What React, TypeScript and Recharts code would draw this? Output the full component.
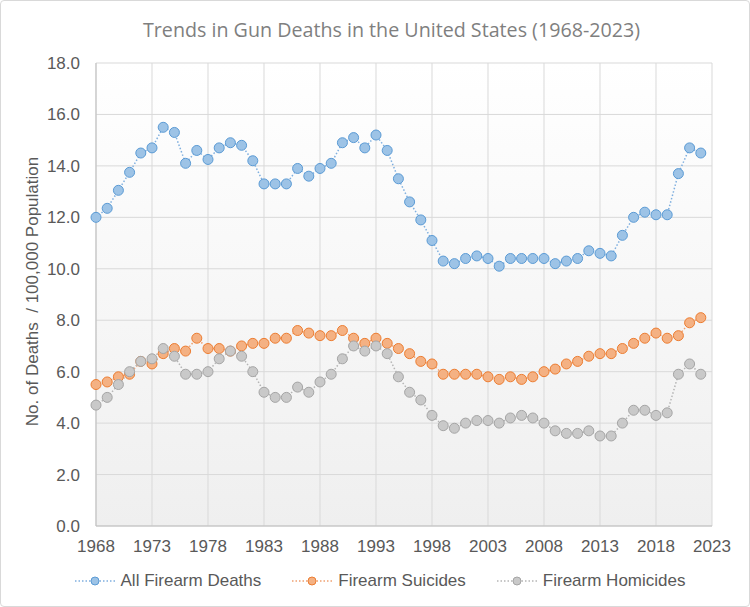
import React from 'react';
import { LineChart, Line, XAxis, YAxis, CartesianGrid } from 'recharts';

const years = [
  1968, 1969, 1970, 1971, 1972, 1973, 1974, 1975, 1976, 1977,
  1978, 1979, 1980, 1981, 1982, 1983, 1984, 1985, 1986, 1987,
  1988, 1989, 1990, 1991, 1992, 1993, 1994, 1995, 1996, 1997,
  1998, 1999, 2000, 2001, 2002, 2003, 2004, 2005, 2006, 2007,
  2008, 2009, 2010, 2011, 2012, 2013, 2014, 2015, 2016, 2017,
  2018, 2019, 2020, 2021, 2022,
];

const allFirearmDeaths = [
  12.0, 12.35, 13.05, 13.75, 14.5, 14.7, 15.5, 15.3, 14.1, 14.6,
  14.25, 14.7, 14.9, 14.8, 14.2, 13.3, 13.3, 13.3, 13.9, 13.6,
  13.9, 14.1, 14.9, 15.1, 14.7, 15.2, 14.6, 13.5, 12.6, 11.9,
  11.1, 10.3, 10.2, 10.4, 10.5, 10.4, 10.1, 10.4, 10.4, 10.4,
  10.4, 10.2, 10.3, 10.4, 10.7, 10.6, 10.5, 11.3, 12.0, 12.2,
  12.1, 12.1, 13.7, 14.7, 14.5,
];

const firearmSuicides = [
  5.5, 5.6, 5.8, 5.9, 6.4, 6.3, 6.7, 6.9, 6.8, 7.3,
  6.9, 6.9, 6.8, 7.0, 7.1, 7.1, 7.3, 7.3, 7.6, 7.5,
  7.4, 7.4, 7.6, 7.3, 7.1, 7.3, 7.1, 6.9, 6.7, 6.4,
  6.3, 5.9, 5.9, 5.9, 5.9, 5.8, 5.7, 5.8, 5.7, 5.8,
  6.0, 6.1, 6.3, 6.4, 6.6, 6.7, 6.7, 6.9, 7.1, 7.3,
  7.5, 7.3, 7.4, 7.9, 8.1,
];

const firearmHomicides = [
  4.7, 5.0, 5.5, 6.0, 6.4, 6.5, 6.9, 6.6, 5.9, 5.9,
  6.0, 6.5, 6.8, 6.6, 6.0, 5.2, 5.0, 5.0, 5.4, 5.2,
  5.6, 5.9, 6.5, 7.0, 6.8, 7.0, 6.7, 5.8, 5.2, 4.9,
  4.3, 3.9, 3.8, 4.0, 4.1, 4.1, 4.0, 4.2, 4.3, 4.2,
  4.0, 3.7, 3.6, 3.6, 3.7, 3.5, 3.5, 4.0, 4.5, 4.5,
  4.3, 4.4, 5.9, 6.3, 5.9,
];

const xTicks = [1968, 1973, 1978, 1983, 1988, 1993, 1998, 2003, 2008, 2013, 2018, 2023];
const yTicks = [0, 2, 4, 6, 8, 10, 12, 14, 16, 18];

const titleText = 'Trends in Gun Deaths in the United States (1968-2023)';
const yLabelText = 'No. of Deaths  / 100,000 Population';

const series = [
  { key: 'all', name: 'All Firearm Deaths', values: allFirearmDeaths, fill: '#9dc3e6', stroke: '#5b9bd5', line: '#7fafdf' },
  { key: 'suicides', name: 'Firearm Suicides', values: firearmSuicides, fill: '#f4b183', stroke: '#ed7d31', line: '#f0a070' },
  { key: 'homicides', name: 'Firearm Homicides', values: firearmHomicides, fill: '#c9c9c9', stroke: '#a5a5a5', line: '#b5b5b5' },
];

const data = years.map((year, i) => {
  const row: Record<string, number> = { year };
  series.forEach((s) => {
    row[s.key] = s.values[i];
  });
  return row;
});

const FONT = '"Liberation Sans", Arial, sans-serif';
const TEXT_COLOR = '#595959';

const YLabel = (props: any) => {
  const vb = props.viewBox || {};
  const cx = (vb.x || 0) + 32;
  const cy = (vb.y || 0) + (vb.height || 0) / 2 - 3;
  return (
    <text
      x={cx}
      y={cy}
      transform={`rotate(-90, ${cx}, ${cy})`}
      textAnchor="middle"
      dominantBaseline="central"
      fill={TEXT_COLOR}
      fontSize={17}
      fontFamily={FONT}
      style={{ whiteSpace: 'pre' }}
    >
      {yLabelText}
    </text>
  );
};

export default function App() {
  return (
    <div
      style={{
        position: 'absolute',
        left: 0,
        top: 0,
        width: 750,
        height: 607,
        background: '#ffffff',
        boxSizing: 'border-box',
        border: '1px solid #d9d9d9',
        borderRadius: 4,
        overflow: 'hidden',
      }}
    >
      <svg
        width={750}
        height={50}
        style={{ position: 'absolute', left: -1, top: -1 }}
      >
        <text
          x={143}
          y={37}
          textLength={497}
          lengthAdjust="spacingAndGlyphs"
          fill="#7f7f7f"
          fontSize={20}
          fontFamily='"Open Sans", "Noto Sans", sans-serif'
        >
          {titleText}
        </text>
      </svg>
      <div style={{ position: 'absolute', left: -1, top: -1 }}>
        <LineChart
          width={750}
          height={607}
          data={data}
          margin={{ top: 63, right: 38, bottom: 51, left: 0 }}
        >
          <defs>
            <linearGradient id="plotBg" x1="0" y1="0" x2="0" y2="1">
              <stop offset="0%" stopColor="#ffffff" />
              <stop offset="100%" stopColor="#efefef" />
            </linearGradient>
          </defs>
          <CartesianGrid
            stroke="#d9d9d9"
            strokeWidth={1}
            fill="url(#plotBg)"
            vertical
            horizontal
          />
          <XAxis
            dataKey="year"
            type="number"
            domain={[1968, 2023]}
            ticks={xTicks}
            interval={0}
            height={30}
            tickSize={0}
            tickMargin={14}
            tickLine={false}
            axisLine={{ stroke: '#bfbfbf' }}
            tick={{ fill: TEXT_COLOR, fontSize: 17, fontFamily: FONT }}
          />
          <YAxis
            type="number"
            domain={[0, 18]}
            ticks={yTicks}
            interval={0}
            width={96}
            tickSize={0}
            tickMargin={16}
            tickLine={false}
            axisLine={{ stroke: '#bfbfbf' }}
            tickFormatter={(v: number) => v.toFixed(1)}
            tick={{ fill: TEXT_COLOR, fontSize: 17, fontFamily: FONT }}
            label={<YLabel />}
          />
          {series.map((s) => (
            <Line
              key={s.key}
              type="linear"
              dataKey={s.key}
              name={s.name}
              stroke={s.line}
              strokeWidth={1.5}
              strokeDasharray="1.5 2"
              dot={{ r: 5, fill: s.fill, stroke: s.stroke, strokeWidth: 1, strokeDasharray: '' }}
              activeDot={false}
              isAnimationActive={false}
            />
          ))}
        </LineChart>
      </div>
      <div
        style={{
          position: 'absolute',
          left: 0,
          top: 569,
          width: 758,
          display: 'flex',
          justifyContent: 'center',
          gap: 31,
          fontFamily: FONT,
          fontSize: 17,
          color: TEXT_COLOR,
          lineHeight: '22px',
        }}
      >
        {series.map((s) => (
          <div key={s.key} style={{ display: 'flex', alignItems: 'center' }}>
            <svg width={40} height={12} style={{ marginRight: 6 }}>
              <line x1={0} y1={6} x2={40} y2={6} stroke={s.line} strokeWidth={1.5} strokeDasharray="1.5 2" />
              <circle cx={20} cy={6} r={4} fill={s.fill} stroke={s.stroke} strokeWidth={1} />
            </svg>
            <span>{s.name}</span>
          </div>
        ))}
      </div>
    </div>
  );
}
